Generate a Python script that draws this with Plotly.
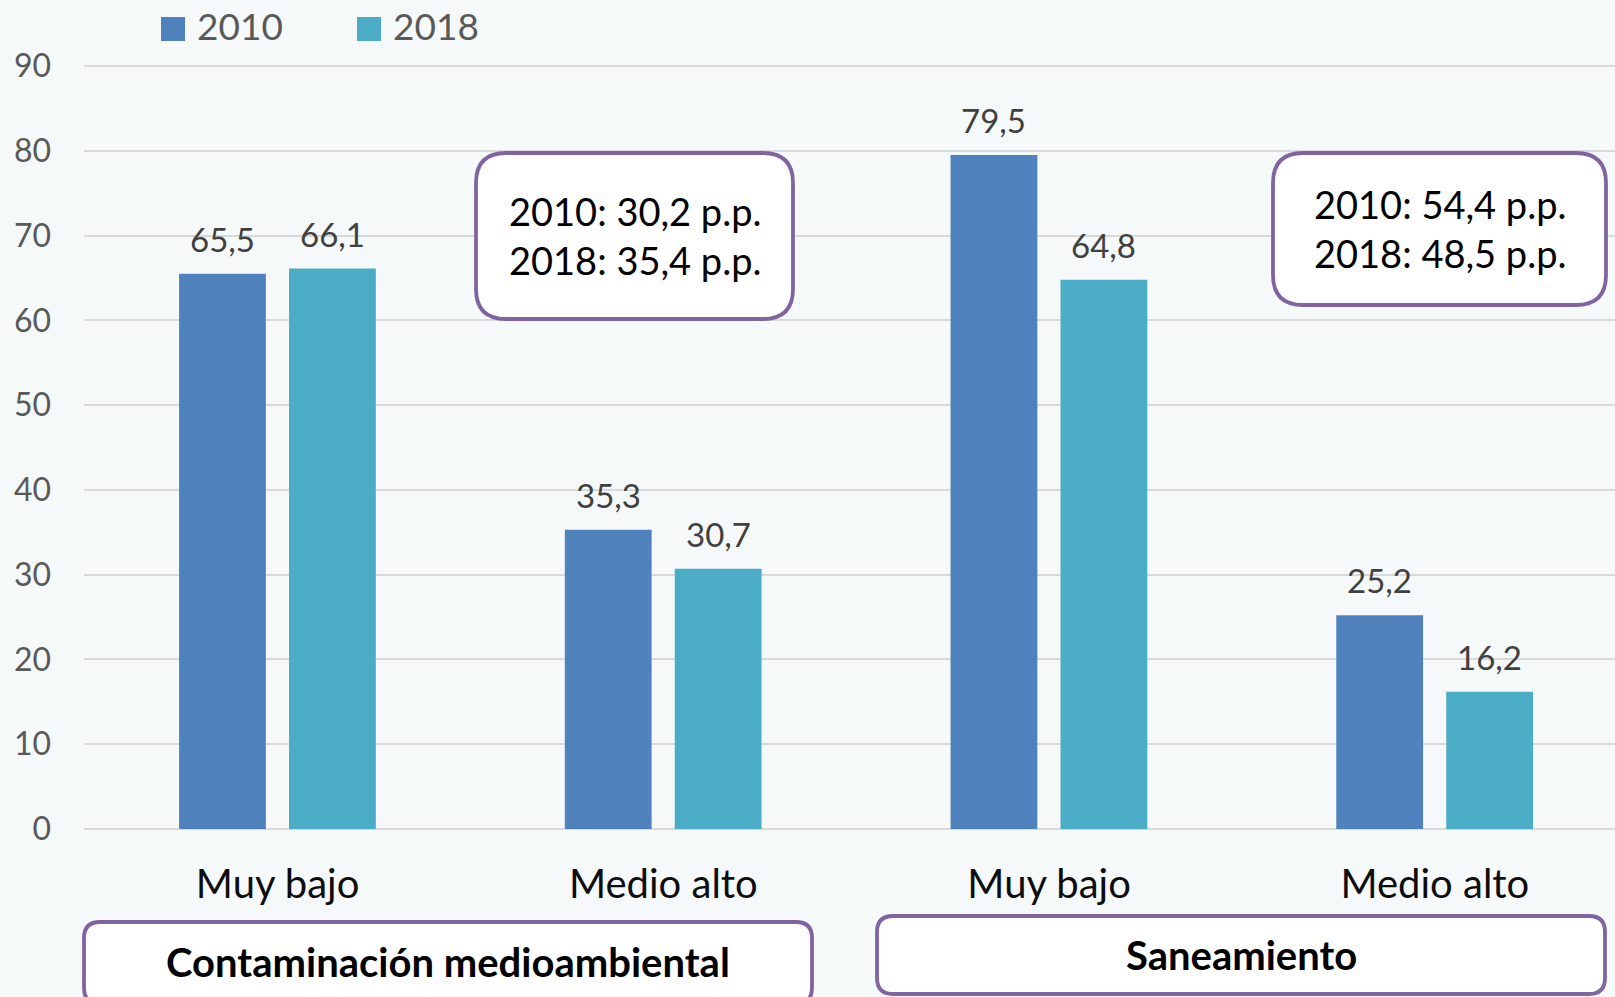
import plotly.graph_objects as go

# ---------------- data ----------------
categories = ["Muy bajo", "Medio alto", "Muy bajo", "Medio alto"]
groups = ["Contaminación medioambiental", "Saneamiento"]
years = ["2010", "2018"]
values_2010 = [65.5, 35.3, 79.5, 25.2]
values_2018 = [66.1, 30.7, 64.8, 16.2]
gap_notes = ["2010: 30,2 p.p.<br>2018: 35,4 p.p.",
             "2010: 54,4 p.p.<br>2018: 48,5 p.p."]
y_ticks = [0, 10, 20, 30, 40, 50, 60, 70, 80, 90]

# ---------------- style ----------------
W, H = 1615, 997
Y0_PX, Y90_PX = 829, 66          # pixel rows of 0 and 90
TOP_PAD = 3                       # extra px above 90 so its gridline shows
ML, MR, MB = 84, 0, H - Y0_PX
MT = Y90_PX - TOP_PAD
y_top = 90 + TOP_PAD * 90 / (Y0_PX - Y90_PX)
BG = "#F6F9FA"
colors = ["#4F81BD", "#4BACC6"]
bar_width = 0.225
bar_offsets = [-0.2555, 0.0295]
purple = "#8064A2"
FONT = "Lato"

positions = list(range(len(categories)))
series = [values_2010, values_2018]

fig = go.Figure()
for yr, vals, col, off in zip(years, series, colors, bar_offsets):
    fig.add_trace(go.Bar(
        x=positions, y=vals, name=yr,
        marker=dict(color=col, line=dict(width=0)),
        width=bar_width, offset=off, showlegend=False,
        hoverinfo="x+y",
    ))

annotations = []
# data labels
for vals, off in zip(series, bar_offsets):
    for p, v in zip(positions, vals):
        annotations.append(dict(
            x=p + off + bar_width / 2, y=v, xref="x", yref="y",
            text=f"{v:.1f}".replace(".", ","), showarrow=False,
            yanchor="bottom", yshift=13,
            font=dict(family=FONT, size=33, color="#404040"),
        ))

pw = W - ML - MR
ph = H - MT - MB


def px(x):
    return (x - ML) / pw


def py(y):
    return (H - MB - y) / ph


def rounded_rect(x0, y0, x1, y1, r):
    X = px
    Y = py
    return (f"M{X(x0 + r)},{Y(y0)} L{X(x1 - r)},{Y(y0)} Q{X(x1)},{Y(y0)} {X(x1)},{Y(y0 + r)} "
            f"L{X(x1)},{Y(y1 - r)} Q{X(x1)},{Y(y1)} {X(x1 - r)},{Y(y1)} "
            f"L{X(x0 + r)},{Y(y1)} Q{X(x0)},{Y(y1)} {X(x0)},{Y(y1 - r)} "
            f"L{X(x0)},{Y(y0 + r)} Q{X(x0)},{Y(y0)} {X(x0 + r)},{Y(y0)} Z")


shapes = []
# callout boxes
callouts = [(476, 153, 793, 319), (1273, 153, 1606, 305)]
for (x0, y0, x1, y1), note in zip(callouts, gap_notes):
    shapes.append(dict(type="path", xref="paper", yref="paper",
                       path=rounded_rect(x0, y0, x1, y1, 30),
                       fillcolor="white", line=dict(color=purple, width=3.8)))
    annotations.append(dict(
        x=px((x0 + x1) / 2), y=py((y0 + y1) / 2), xref="paper", yref="paper",
        text=note, showarrow=False, xanchor="center", yanchor="middle",
        font=dict(family=FONT, size=38, color="#000000"),
    ))

# group boxes
group_boxes = [(84, 922, 812, 1004), (877, 916, 1605, 994)]
for (x0, y0, x1, y1), g, ty in zip(group_boxes, groups, [962, 955]):
    shapes.append(dict(type="path", xref="paper", yref="paper",
                       path=rounded_rect(x0, y0, x1, y1, 16),
                       fillcolor="white", line=dict(color=purple, width=3.8)))
    annotations.append(dict(
        x=px((x0 + x1) / 2), y=py(ty), xref="paper", yref="paper",
        text=f"<b>{g}</b>", showarrow=False, xanchor="center", yanchor="middle",
        font=dict(family=FONT, size=40, color="#000000"),
    ))

# legend (manual, for large swatches)
leg_x = [161, 357]
for yr, col, lx in zip(years, colors, leg_x):
    shapes.append(dict(type="rect", xref="paper", yref="paper",
                       x0=px(lx), x1=px(lx + 24), y0=py(41), y1=py(17),
                       fillcolor=col, line=dict(width=0)))
    annotations.append(dict(
        x=px(lx + 34), y=py(26), xref="paper", yref="paper",
        text=yr, showarrow=False, xanchor="left", yanchor="middle",
        font=dict(family=FONT, size=37, color="#595959"),
    ))

fig.update_layout(
    width=W, height=H,
    margin=dict(l=ML, r=MR, t=MT, b=MB, pad=0),
    paper_bgcolor=BG, plot_bgcolor=BG,
    showlegend=False,
    barmode="group",
    font=dict(family=FONT),
    xaxis=dict(
        range=[-0.502, 3.467], tickvals=positions, ticktext=categories,
        showgrid=False, zeroline=False, showline=False,
        ticks="", ticklabelstandoff=28,
        tickfont=dict(family=FONT, size=40, color="#0D0D0D"),
        fixedrange=True,
    ),
    yaxis=dict(
        range=[0, y_top], tickvals=y_ticks, showgrid=True,
        gridcolor="#D9D9D9", gridwidth=2,
        zeroline=True, zerolinecolor="#D9D9D9", zerolinewidth=2,
        showline=False, ticks="", ticklabelstandoff=32,
        tickfont=dict(family=FONT, size=32, color="#595959"),
        fixedrange=True,
    ),
    shapes=shapes,
    annotations=annotations,
)

fig.write_html(
    "out.html",
    config={"displayModeBar": False},
    post_script="document.body.style.margin='0';document.body.style.overflow='hidden';",
)
